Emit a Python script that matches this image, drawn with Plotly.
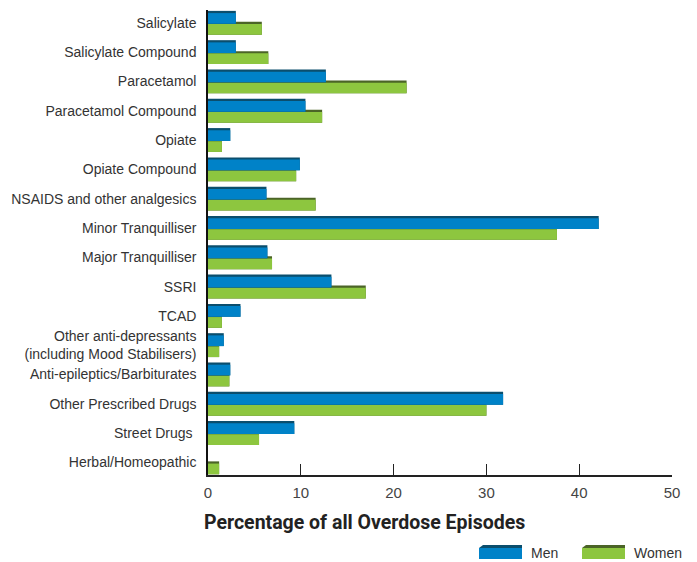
import plotly.graph_objects as go

categories = [
    "Salicylate", "Salicylate Compound", "Paracetamol", "Paracetamol Compound",
    "Opiate", "Opiate Compound", "NSAIDS and other analgesics", "Minor Tranquilliser",
    "Major Tranquilliser", "SSRI", "TCAD",
    "Other anti-depressants<br>(including Mood Stabilisers)",
    "Anti-epileptics/Barbiturates", "Other Prescribed Drugs", "Street Drugs ",
    "Herbal/Homeopathic",
]
men = [3.0, 3.0, 12.7, 10.5, 2.4, 9.9, 6.3, 42.1, 6.4, 13.3, 3.5, 1.7, 2.4, 31.8, 9.3, 0.0]
women = [5.8, 6.5, 21.4, 12.3, 1.5, 9.5, 11.6, 37.6, 6.9, 17.0, 1.5, 1.2, 2.3, 30.0, 5.5, 1.2]
x_ticks = [0, 10, 20, 30, 40, 50]

BLUE, BLUE_D = "#0082C8", "#0B4E6D"
GREEN, GREEN_D = "#8DC63F", "#4B6427"

W, H = 697, 562
L, R, T, B = 208, 25, 10, 87
pos = list(range(len(categories)))

fig = go.Figure()
bw = 0.44
top = 0.075
for vals, col, dcol, off in [(women, GREEN, GREEN_D, -0.035), (men, BLUE, BLUE_D, -0.41)]:
    fig.add_trace(go.Bar(y=pos, x=vals, orientation="h", marker=dict(color=dcol, line=dict(width=0)),
                         width=bw, offset=off, showlegend=False, hoverinfo="skip"))
    fig.add_trace(go.Bar(y=pos, x=vals, orientation="h", marker=dict(color=col, line=dict(width=0)),
                         width=bw - top, offset=off + top, showlegend=False))

fig.update_layout(
    width=W, height=H, barmode="overlay",
    margin=dict(l=L, r=R, t=T, b=B),
    plot_bgcolor="white", paper_bgcolor="white",
    font=dict(family="Liberation Sans, Arial, sans-serif", color="#444"),
    xaxis=dict(range=[0, 50], tickvals=x_ticks, ticks="inside", ticklen=11, tickcolor="#222",
               showline=True, linecolor="#222", linewidth=1.5, showgrid=False, zeroline=False,
               tickfont=dict(size=15, color="#444"), ticklabelstandoff=3),
    yaxis=dict(range=[15.43, -0.44], tickvals=pos, ticktext=categories, ticks="",
               showline=True, linecolor="#111", linewidth=1.5, showgrid=False, zeroline=False,
               tickfont=dict(size=14, color="#333"), ticklabelstandoff=7),
)

pw, ph = W - L - R, H - T - B
def px(x):
    return (x - L) / pw
def py(y):
    return (H - B - y) / ph

fig.add_annotation(text="<b>Percentage of all Overdose Episodes</b>", xref="paper", yref="paper",
                   x=px(364), y=py(522), showarrow=False, xanchor="center", yanchor="middle",
                   font=dict(size=19.5, color="#222", family="Liberation Sans Narrow, Arial Narrow, Roboto, sans-serif"))

# legend
for x0, col, dcol, label in [(479, BLUE, BLUE_D, "Men"), (582, GREEN, GREEN_D, "Women")]:
    x1 = x0 + 43
    fig.add_shape(type="path", xref="paper", yref="paper",
                  path=f"M {px(x0)} {py(548)} L {px(x0+4)} {py(545)} L {px(x1)} {py(545)} L {px(x1)} {py(548)} Z",
                  fillcolor=dcol, line=dict(width=0))
    fig.add_shape(type="rect", xref="paper", yref="paper", x0=px(x0), x1=px(x1), y0=py(559), y1=py(548),
                  fillcolor=col, line=dict(width=0))
    fig.add_annotation(text=label, xref="paper", yref="paper", x=px(x1 + 7), y=py(553), showarrow=False,
                       xanchor="left", yanchor="middle", font=dict(size=14, color="#333"))

fig.write_html("out.html")
